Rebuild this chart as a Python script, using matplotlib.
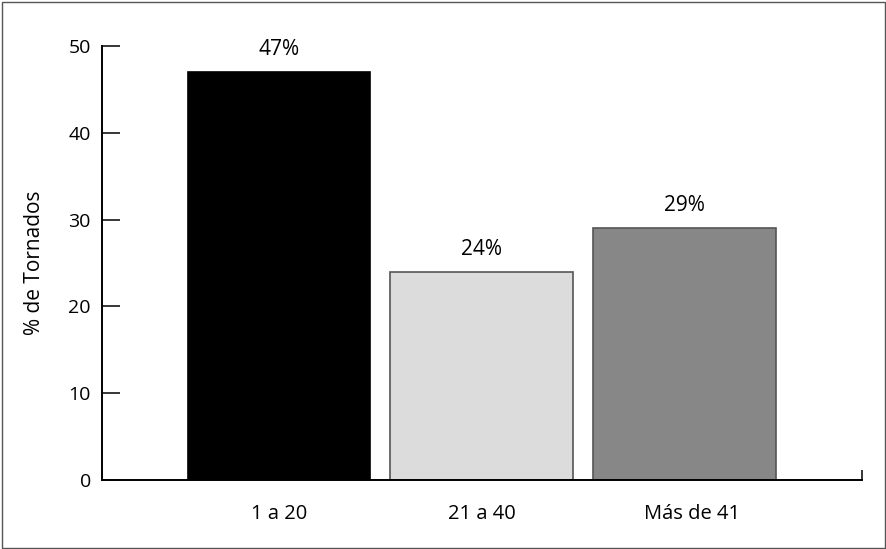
import matplotlib.pyplot as plt
from matplotlib.patches import Rectangle
from matplotlib.transforms import ScaledTranslation

# Data
categories = ["1 a 20", "21 a 40", "Más de 41"]
values = [47, 24, 29]
value_labels = ["47%", "24%", "29%"]
bar_colors = ["#000000", "#dcdcdd", "#878787"]
edge_colors = ["#000000", "#555555", "#555555"]
y_ticks = [0, 10, 20, 30, 40, 50]

plt.rcParams['font.family'] = ['Open Sans', 'DejaVu Sans']

fig = plt.figure(figsize=(8.87, 5.49), dpi=100)
ax = fig.add_axes([0.115, 0.1257, 0.857, 0.7905])

x = list(range(len(categories)))
ax.bar(x, values, width=0.9, color=bar_colors, edgecolor=edge_colors, linewidth=1.2, zorder=2)

# Value labels over each bar
for xi, v, lab in zip(x, values, value_labels):
    ax.annotate(lab, (xi, v), xytext=(0, 8.5), textcoords="offset points",
                ha="center", va="bottom", fontsize=15)

ax.set_xlim(-0.872, 2.876)
ax.set_ylim(0, 50)
ax.set_yticks(y_ticks)
ax.set_xticks(x)
ax.set_xticklabels(categories)
ax.set_ylabel("% de Tornados", fontsize=15, labelpad=17)

for side in ["top", "right"]:
    ax.spines[side].set_visible(False)
for side in ["left", "bottom"]:
    ax.spines[side].set_linewidth(1.4)

ax.tick_params(axis="y", direction="in", length=13, width=1.1, labelsize=14, pad=8)
ax.tick_params(axis="x", length=0, labelsize=14.5, pad=17)

# last category label sits a little right of its bar in the original
last = ax.get_xticklabels()[-1]
last.set_transform(last.get_transform() + ScaledTranslation(0.08, 0, fig.dpi_scale_trans))

# little closing tick at the right end of the x axis
ax.set_xticks([2.876], minor=True)
ax.tick_params(axis="x", which="minor", direction="in", length=7, width=1.1)

# thin frame around the whole picture
fig.add_artist(Rectangle((0.002, 0.002), 0.996, 0.995, transform=fig.transFigure,
                         fill=False, edgecolor="#555555", linewidth=1))

fig.savefig("out.png", dpi=100)
